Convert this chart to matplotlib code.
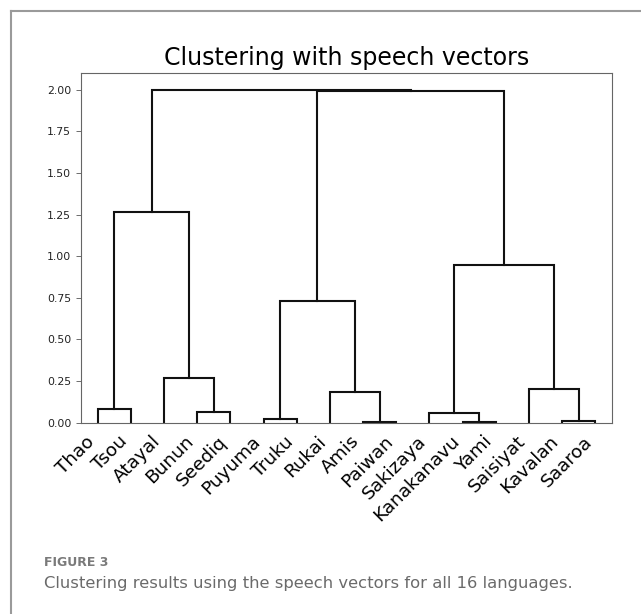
import matplotlib
matplotlib.use('Agg')
import matplotlib.pyplot as plt
import numpy as np

# leaf order as drawn, left to right
languages = ['Thao', 'Tsou', 'Atayal', 'Bunun', 'Seediq', 'Puyuma', 'Truku',
             'Rukai', 'Amis', 'Paiwan', 'Sakizaya', 'Kanakanavu', 'Yami',
             'Saisiyat', 'Kavalan', 'Saaroa']

# merges: (left node, right node, height); node ids >= 16 are earlier merges
merge_left = [8, 11, 14, 5, 10, 3, 0, 7, 13, 2, 19, 20, 22, 26, 28]
merge_right = [9, 12, 15, 6, 17, 4, 1, 16, 18, 21, 23, 24, 25, 27, 29]
merge_height = [0.003, 0.003, 0.010, 0.022, 0.058, 0.062, 0.082, 0.182,
                 0.202, 0.268, 0.731, 0.947, 1.265, 1.993, 2.000]

yticks = [0.0, 0.25, 0.5, 0.75, 1.0, 1.25, 1.5, 1.75, 2.0]

W, H = 641, 614
fig = plt.figure(figsize=(W / 100, H / 100), dpi=100)

# page frame (only top and left edges fall inside the picture)
fig.add_artist(plt.Line2D([11 / W, 11 / W], [0, 1 - 11 / H], color='#9a9a9a',
                          lw=1.5, transform=fig.transFigure))
fig.add_artist(plt.Line2D([11 / W, 1], [1 - 11 / H, 1 - 11 / H], color='#9a9a9a',
                          lw=1.5, transform=fig.transFigure))

ax = fig.add_axes([81 / W, (H - 422.7) / H, 531 / W, (422.7 - 73) / H])

n = len(languages)
xpos = {i: 10 * i + 5 for i in range(n)}
ypos = {i: 0.0 for i in range(n)}
for k, (a, b, h) in enumerate(zip(merge_left, merge_right, merge_height)):
    xa, xb = xpos[a], xpos[b]
    ax.plot([xa, xa, xb, xb], [ypos[a], h, h, ypos[b]], color='#111111', lw=1.5,
            solid_joinstyle='miter')
    node = n + k
    xpos[node] = (xa + xb) / 2
    ypos[node] = h

ax.set_xlim(0, 10 * n)
ax.set_ylim(0, max(merge_height) * 1.05)
ax.set_xticks([10 * i + 5 for i in range(n)])
ax.set_xticklabels(languages, rotation=45, ha='right', fontsize=13.3)
ax.tick_params(axis='x', length=3.5, width=0)
ax.set_yticks(yticks)
ax.set_yticklabels(['%.2f' % t for t in yticks], fontsize=7.8, color='#222222')
ax.tick_params(axis='y', length=3.5, width=0.6, color='#555555')
for s in ax.spines.values():
    s.set_color('#666666')
    s.set_linewidth(0.8)

ax.set_title('Clustering with speech vectors', fontsize=17, pad=6)

fig.text(44 / W, 1 - 566 / H, 'FIGURE 3', fontsize=9, color='#7a7a7a',
         family='DejaVu Sans', weight='bold', va='baseline')
fig.text(44 / W, 1 - 588.3 / H,
         'Clustering results using the speech vectors for all 16 languages.',
         fontsize=11.8, color='#6a6a6a', family='DejaVu Sans',
         va='baseline')

fig.savefig('out.png', dpi=100)
